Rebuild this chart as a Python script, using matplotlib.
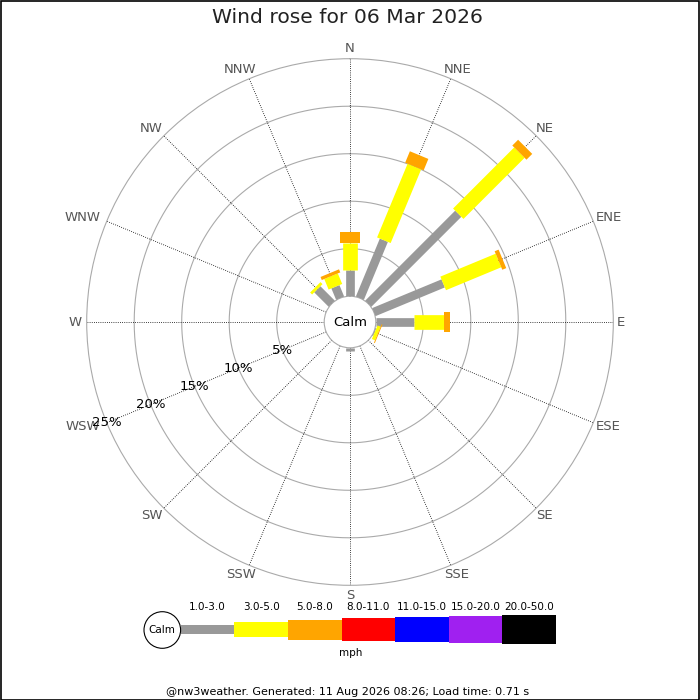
import numpy as np
import matplotlib
matplotlib.use("Agg")
import matplotlib.pyplot as plt
from matplotlib.patches import Rectangle, Circle

# ---------------- data ----------------
directions = ["N", "NNE", "NE", "ENE", "E", "ESE", "SE", "SSE",
              "S", "SSW", "SW", "WSW", "W", "WNW", "NW", "NNW"]
# frequency (%) per speed band
band_1_3 = [2.8, 6.6, 13.4, 7.9, 4.05, 0.1, 0, 0, 0.35, 0, 0, 0, 0, 0, 2.15, 1.3]
band_3_5 = [2.75, 8.4, 9.1, 6.3, 3.1, 0.35, 0, 0, 0, 0, 0, 0, 0, 0, 0.3, 1.2]
band_5_8 = [1.25, 1.3, 0.86, 0.45, 0.7, 0.1, 0, 0, 0, 0, 0, 0, 0, 0, 0, 0.35]
bands = [band_1_3, band_3_5, band_5_8]

speed_labels = ["1.0-3.0", "3.0-5.0", "5.0-8.0", "8.0-11.0",
                "11.0-15.0", "15.0-20.0", "20.0-50.0"]
speed_colors = ["#999999", "#ffff00", "#ffa500", "#ff0000",
                "#0000ff", "#a020f0", "#000000"]
ring_pcts = [5, 10, 15, 20, 25]
ring_labels = ["5%", "10%", "15%", "20%", "25%"]
title = "Wind rose for 06 Mar 2026"
footer = "@nw3weather. Generated: 11 Aug 2026 08:26; Load time: 0.71 s"

# ---------------- figure ----------------
W = H = 700
fig = plt.figure(figsize=(7, 7), dpi=100)
fig.patch.set_facecolor("white")

cx, cy = 350, 322          # centre in pixels (from top)
R_out = 263.3              # outer ring radius px
R_calm = 25.8              # calm circle radius px
rmax = 25.0
px_per_pct = (R_out - R_calm) / rmax
rorigin = -R_calm / px_per_pct

ax = fig.add_axes([(cx - R_out) / W, (H - cy - R_out) / H,
                   2 * R_out / W, 2 * R_out / H], projection="polar")
ax.set_theta_zero_location("N")
ax.set_theta_direction(-1)
ax.set_ylim(0, rmax)
ax.set_rorigin(rorigin)
ax.set_xticks([])
ax.set_yticks([])
ax.grid(False)
ax.set_facecolor("white")
for sp in ax.spines.values():
    sp.set_color("#aaaaaa")
    sp.set_linewidth(0.8)

thetas = np.deg2rad(np.arange(len(directions)) * 22.5)
full = np.linspace(0, 2 * np.pi, 721)

# rings
for r in ring_pcts[:-1]:
    ax.plot(full, np.full_like(full, r), color="#aaaaaa", lw=0.8, zorder=1)
# direction lines
for t in thetas:
    ax.plot([t, t], [0, rmax], color="black", lw=0.6,
            ls=(0, (1, 1.6)), zorder=1)

# bars
bar_px = [8.7, 14.7, 20.0, 23.0, 25.0, 27.0, 28.3]
base = np.zeros(len(directions))
for i, vals in enumerate(bands):
    vals = np.array(vals, dtype=float)
    for t, b, v in zip(thetas, base, vals):
        if v > 0:
            ax.plot([t, t], [b, b + v], color=speed_colors[i],
                    lw=bar_px[i] * 0.72, solid_capstyle="butt", zorder=3)
    base = base + vals

# direction labels: bbox placed just outside the outer ring
renderer = fig.canvas.get_renderer()
r_anchor = (267 - R_calm) / px_per_pct
for t, d in zip(thetas, directions):
    tmp = fig.text(0, 0, d, fontsize=9.5)
    bb = tmp.get_window_extent(renderer=renderer)
    tmp.remove()
    s, c = np.sin(t), np.cos(t)
    k = 1.25 if s < -0.1 else 1.0
    dx = k * bb.width / 2 * s * 0.72
    dy = bb.height / 2 * c * 0.72
    ax.annotate(d, xy=(t, r_anchor), xytext=(dx, dy),
                textcoords="offset points", ha="center", va="center",
                fontsize=9.5, color="#555555", annotation_clip=False,
                zorder=5)

# ring labels along WSW
t_wsw = thetas[directions.index("WSW")]
for r, lab in zip(ring_pcts, ring_labels):
    ax.text(t_wsw, r, lab, ha="center", va="center", fontsize=9.5,
            color="black", clip_on=False, zorder=6)

ax.text(0.5, 0.5, "Calm", transform=ax.transAxes, ha="center",
        va="center", fontsize=9.5, color="black", zorder=6)

# ---------------- overlay (title, legend, footer) ----------------
ov = fig.add_axes([0, 0, 1, 1])
ov.set_xlim(0, W)
ov.set_ylim(H, 0)
ov.axis("off")
ov.patch.set_alpha(0)

ov.text(347, 17.5, title, ha="center", va="center", fontsize=14.6,
        color="#222222")

leg_y = 629.5
seg_x0 = 180.7
seg_w = 53.6
ov.add_patch(Circle((162.3, 630), 18.3, facecolor="white",
                    edgecolor="black", lw=0.8, zorder=4))
ov.text(162.3, 630, "Calm", ha="center", va="center", fontsize=7.5,
        zorder=5)
for i, (lab, col) in enumerate(zip(speed_labels, speed_colors)):
    x0 = seg_x0 + i * seg_w
    h = bar_px[i]
    ov.add_patch(Rectangle((x0, leg_y - h / 2), seg_w, h, facecolor=col,
                           edgecolor="none", zorder=3))
    ov.text(x0 + seg_w / 2, 607, lab, ha="center", va="center",
            fontsize=7.5)
ov.text(350.5, 653.5, "mph", ha="center", va="center", fontsize=7.5)
ov.text(348, 692, footer, ha="center", va="center", fontsize=8)

# border
fig.patches.append(Rectangle((0.5 / W, 0.5 / H), 1 - 1.5 / W, 1 - 1.5 / H,
                             transform=fig.transFigure, fill=False,
                             edgecolor="black", lw=1.2))

fig.savefig("out.png", dpi=100)
